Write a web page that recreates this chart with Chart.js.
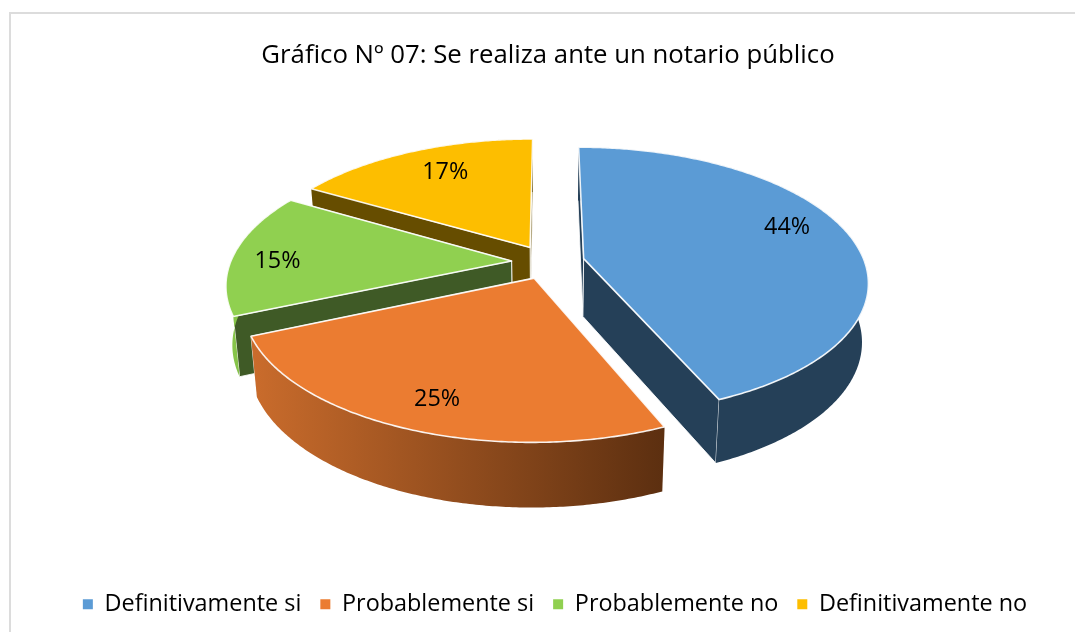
<!DOCTYPE html>
<html>
<head>
<meta charset="utf-8">
<script src="https://cdn.jsdelivr.net/npm/chart.js@4/dist/chart.umd.min.js"></script>
<style>
  html, body { margin: 0; background: #fff; }
  #wrap { position: relative; width: 1075px; height: 632px; overflow: hidden; }
  #frame { position: absolute; left: 9px; top: 12px; width: 1100px; height: 700px; border: 2px solid #dcdcdc; box-sizing: border-box; }
  canvas { position: absolute; left: 0; top: 0; }
</style>
</head>
<body>
<div id="wrap">
  <div id="frame"></div>
  <canvas id="chart" width="1075" height="632"></canvas>
</div>
<script>
const categories = ["Definitivamente si", "Probablemente si", "Probablemente no", "Definitivamente no"]
const shares = [43.6, 24.9, 14.9, 16.6]
const titleText = "Gráfico Nº 07: Se realiza ante un notario público"

const topColors = ["#5B9BD5", "#EB7C31", "#90D050", "#FDBE00"]
const cutColors = ["#254058", "#6a3a14", "#3F5A26", "#664D00"]
const rimStops = [
  ["#254058", "#254058"],
  ["#ca6c2c", "#5c2f10"],
  ["#8ac94c", "#6fa53a"],
  ["#664D00", "#664D00"],
]

// view of the tilted pie
const view = { cy: 262, kx: 281, ky: 131, persp: 0.166, depth: 58, depthPersp: 0.54, shrink: 0.02, explode: 0.13 }
const labelRadius = [0.805, 0.82, 0.835, 0.755]
const labelTurn = [-7, -1.2, -3, 2.4]
const drawOrder = [3, 2, 1, 0]

function project(arc, X, Z, low) {
  const s = 1 / (1 - view.persp * Z)
  let x = arc.x + view.kx * X * s
  let y = view.cy + view.ky * Z * s
  if (low) {
    x = arc.x + (x - arc.x) * (1 - view.shrink)
    y += view.depth * (1 + (s - 1) * view.depthPersp)
  }
  return [x, y]
}

function rimPoint(arc, a, low) {
  const mid = (arc.startAngle + arc.endAngle) / 2
  return project(arc, view.explode * Math.cos(mid) + Math.cos(a), view.explode * Math.sin(mid) + Math.sin(a), low)
}

function apexPoint(arc, low) {
  const mid = (arc.startAngle + arc.endAngle) / 2
  return project(arc, view.explode * Math.cos(mid), view.explode * Math.sin(mid), low)
}

function trace(ctx, pts) {
  ctx.beginPath()
  pts.forEach((p, i) => i ? ctx.lineTo(p[0], p[1]) : ctx.moveTo(p[0], p[1]))
  ctx.closePath()
}

function rimAngles(arc) {
  const out = []
  const n = Math.ceil((arc.endAngle - arc.startAngle) / 0.01)
  for (let i = 0; i <= n; i++) out.push(arc.startAngle + (arc.endAngle - arc.startAngle) * i / n)
  return out
}

const tiltedPie = {
  id: "tiltedPie",
  afterLayout(chart) {
    // legend sits a little right of and above where the layout puts it
    chart.legend.left += 7
    chart.legend.right += 7
    chart.legend.top -= 6
    chart.legend.bottom -= 6
  },
  beforeDatasetDraw(chart) {
    const ctx = chart.ctx
    const arcs = chart.getDatasetMeta(0).data
    ctx.save()
    ctx.lineJoin = "round"
    drawOrder.forEach((i) => {
      const arc = arcs[i]
      const angles = rimAngles(arc)
      const upper = angles.map((a) => rimPoint(arc, a, false))
      const lower = angles.map((a) => rimPoint(arc, a, true))
      const apexUp = apexPoint(arc, false)
      const apexLow = apexPoint(arc, true)

      // the two cut faces, the one further back first
      const faces = [[upper[0], lower[0]], [upper[upper.length - 1], lower[lower.length - 1]]]
      faces.sort((a, b) => a[0][1] - b[0][1])
      faces.forEach((edge) => {
        trace(ctx, [apexUp, edge[0], edge[1], apexLow])
        ctx.fillStyle = cutColors[i]
        ctx.fill()
        ctx.strokeStyle = "rgba(255,255,255,0.85)"
        ctx.lineWidth = 1
        ctx.stroke()
      })

      // outer wall
      const xs = upper.concat(lower).map((p) => p[0])
      const grad = ctx.createLinearGradient(Math.min(...xs), 0, Math.max(...xs), 0)
      grad.addColorStop(0, rimStops[i][0])
      grad.addColorStop(1, rimStops[i][1])
      trace(ctx, upper.concat(lower.slice().reverse()))
      ctx.fillStyle = grad
      ctx.fill()

      // top face
      trace(ctx, [apexUp].concat(upper))
      ctx.fillStyle = topColors[i]
      ctx.fill()
      ctx.strokeStyle = "rgba(255,255,255,0.9)"
      ctx.lineWidth = 1.6
      ctx.stroke()
    })

    // percent labels
    const total = shares.reduce((a, b) => a + b, 0)
    ctx.fillStyle = "#000"
    ctx.font = "23.4px 'Open Sans'"
    ctx.textAlign = "center"
    ctx.textBaseline = "middle"
    arcs.forEach((arc, i) => {
      const mid = (arc.startAngle + arc.endAngle) / 2
      const a = mid + labelTurn[i] * Math.PI / 180
      const p = project(arc,
        view.explode * Math.cos(mid) + labelRadius[i] * Math.cos(a),
        view.explode * Math.sin(mid) + labelRadius[i] * Math.sin(a), false)
      ctx.fillText(Math.round(shares[i] / total * 100) + "%", p[0], p[1] + 1)
    })
    ctx.restore()
    return false
  },
}

new Chart(document.getElementById("chart"), {
  type: "pie",
  data: {
    labels: categories,
    datasets: [{ data: shares, backgroundColor: topColors, borderWidth: 0 }],
  },
  options: {
    responsive: false,
    animation: false,
    layout: { padding: { left: 21, top: 40, bottom: 0 } },
    plugins: {
      title: {
        display: true,
        text: titleText,
        color: "#000",
        font: { family: "'Open Sans'", size: 25.75, weight: "normal" },
        padding: { top: 0, bottom: 10 },
      },
      legend: {
        position: "bottom",
        labels: {
          color: "#000",
          font: { family: "'Open Sans'", size: 23.4 },
          boxWidth: 10,
          boxHeight: 10,
          padding: 19,
        },
      },
      tooltip: { enabled: false },
    },
  },
  plugins: [tiltedPie],
})
</script>
</body>
</html>
